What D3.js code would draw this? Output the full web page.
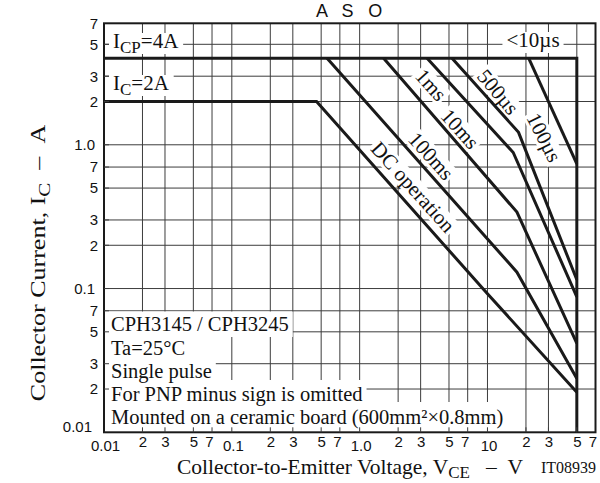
<!DOCTYPE html>
<html>
<head>
<meta charset="utf-8">
<script src="https://cdn.jsdelivr.net/npm/d3@7"></script>
<style>
  body { margin: 0; background: #fff; }
  svg { display: block; }
</style>
</head>
<body>
<svg id="chart" width="600" height="483"></svg>
<script>
// values (V in volts, I in amps)
const ic_peak = 4
const ic_dc = 2
const v_limit = 50
const dc_curve = [[0.01, 2], [0.46, 2], [10, 0.092], [50, 0.019]]
const ms100_curve = [[0.556, 4], [17, 0.13], [50, 0.0237]]
const ms10_curve = [[1.54, 4], [17, 0.34], [50, 0.0415]]
const ms1_curve = [[3.37, 4], [15.9, 0.884], [50, 0.0874]]
const us500_curve = [[5.28, 4], [17.5, 1.22], [50, 0.115]]
const us100_curve = [[21, 4], [50, 0.738]]

const x_ticks = [0.01, 0.02, 0.03, 0.05, 0.07, 0.1, 0.2, 0.3, 0.5, 0.7, 1, 2, 3, 5, 7, 10, 20, 30, 50, 70]
const x_labels = ["0.01", "2", "3", "5", "7", "0.1", "2", "3", "5", "7", "1.0", "2", "3", "5", "7", "10", "2", "3", "5", "7"]
const y_ticks = [0.01, 0.02, 0.03, 0.05, 0.07, 0.1, 0.2, 0.3, 0.5, 0.7, 1, 2, 3, 5, 7]
const y_labels = ["0.01", "2", "3", "5", "7", "0.1", "2", "3", "5", "7", "1.0", "2", "3", "5", "7"]
const decades = [0.01, 0.1, 1, 10]

const curve_names = ["DC operation", "100ms", "10ms", "1ms", "500\u00b5s", "100\u00b5s"]
const info_lines = ["CPH3145 / CPH3245", "Ta=25\u00b0C", "Single pulse",
  "For PNP minus sign is omitted", "Mounted on a ceramic board (600mm\u00b2\u00d70.8mm)"]

const serif = '"Liberation Serif", "Times New Roman", serif'
const sans = '"Liberation Sans", Arial, sans-serif'
const ink = "#1a1a1a"

let svg = d3.select("#chart")
let pl = 104, pr = 595.5, pt = 23.3, pb = 432.3

let x = d3.scaleLog().domain([0.01, 70]).range([pl, pr])
let y = d3.scaleLog().domain([0.01, 7]).range([pb, pt])

// grid
let grid = svg.append("g").attr("stroke", "#3c3c3c").attr("stroke-width", 1)
grid.selectAll(".vx").data(x_ticks.slice(1, -1)).join("line")
  .attr("x1", d => x(d)).attr("x2", d => x(d))
  .attr("y1", pb).attr("y2", pt)
grid.selectAll(".hy").data(y_ticks.slice(1, -1)).join("line")
  .attr("x1", pl).attr("x2", pr)
  .attr("y1", d => y(d)).attr("y2", d => y(d))

// white boxes that sit behind the annotation text
let boxes = svg.append("g")
let texts = svg.append("g").attr("fill", "#111").style("font-family", serif).style("font-size", "21px")

function addParts(t, parts, size, subSize) {
  let shift = 0
  parts.forEach(p => {
    let dy = p[1] ? 4.5 : 0
    t.append("tspan").text(p[0])
      .attr("dy", dy - shift)
      .style("font-size", (p[1] ? subSize || 17 : size || 21) + "px")
    shift = dy
  })
  return t
}

function cornerLabel(px, py, parts, anchor) {
  let t = addParts(texts.append("text").attr("x", px).attr("y", py).attr("text-anchor", anchor || "start"), parts)
  let b = t.node().getBBox()
  boxes.append("rect").attr("x", b.x - 4).attr("y", py - 15)
    .attr("width", b.width + 8).attr("height", 21).attr("fill", "#fff")
}

cornerLabel(113, 48, [["I", 0], ["CP", 1], ["=4A", 0]])
cornerLabel(113, 90, [["I", 0], ["C", 1], ["=2A", 0]])
cornerLabel(533, 47, [["<10\u00b5s", 0]], "middle")

// curve labels, centred between the lines and turned along them
let label_place = [[413, 187, 48], [431, 156, 48], [460, 129, 48], [431, 85, 48], [498, 92, 50], [544, 137.5, 63]]
curve_names.forEach((name, i) => {
  let p = label_place[i]
  let g = svg.append("g").attr("transform", `translate(${p[0]},${p[1]}) rotate(${p[2]})`)
  let t = g.append("text").text(name)
    .attr("text-anchor", "middle").attr("dominant-baseline", "central")
    .attr("fill", "#111").style("font-family", serif).style("font-size", "21px")
  let b = t.node().getBBox()
  g.insert("rect", "text").attr("x", b.x - 2).attr("y", b.y + 2)
    .attr("width", b.width + 4).attr("height", b.height - 4).attr("fill", "#fff")
})

// note block in the lower left: baseline of each line and the white band behind it
let info_base = [331, 354.5, 377.5, 401, 424]
let info_top = [311.5, 337, 337, 380, 402]
let info_bot = [337, 381, 381, 404, pb]
info_lines.forEach((s, i) => {
  let t = texts.append("text").attr("x", 111).attr("y", info_base[i])
    .style("font-size", "20.5px").text(s)
  let w = t.node().getComputedTextLength()
  boxes.append("rect").attr("x", pl).attr("y", info_top[i])
    .attr("width", 111 + w + 4 - pl).attr("height", info_bot[i] - info_top[i])
    .attr("fill", "#fff")
})

// limit lines
let line = d3.line().x(d => x(d[0])).y(d => y(d[1]))
let curves = svg.append("g").attr("fill", "none").attr("stroke", ink)
  .attr("stroke-width", 3).attr("stroke-linejoin", "miter")
curves.append("path").attr("d", line([[0.01, ic_peak], [v_limit, ic_peak], [v_limit, 0.01]]))
curves.selectAll(".c").data([dc_curve, ms100_curve, ms10_curve, ms1_curve, us500_curve, us100_curve])
  .join("path").attr("d", d => line(d))

// frame
svg.append("rect").attr("x", pl).attr("y", pt)
  .attr("width", pr - pl).attr("height", pb - pt)
  .attr("fill", "none").attr("stroke", ink).attr("stroke-width", 2)

// small inward ticks (still visible over the white boxes)
let ticks = svg.append("g").attr("stroke", "#3c3c3c")
ticks.selectAll(".tx").data(x_ticks.slice(1, -1)).join("line")
  .attr("x1", d => x(d)).attr("x2", d => x(d)).attr("y1", pb).attr("y2", pb - 5)
ticks.selectAll(".ty").data(y_ticks.slice(1, -1)).join("line")
  .attr("x1", pl).attr("x2", pl + 5).attr("y1", d => y(d)).attr("y2", d => y(d))

// axes labels
let xAxis = svg.append("g").attr("transform", `translate(0,${pb})`)
  .call(d3.axisBottom(x).tickValues(x_ticks).tickSize(0).tickPadding(4).tickFormat((d, i) => x_labels[i]))
xAxis.select(".domain").remove()
xAxis.selectAll("text").style("font-family", sans).style("font-size", "15px").attr("fill", "#111")
  .attr("dy", d => decades.includes(d) ? "0.98em" : "0.71em")
  .attr("dx", (d, i) => decades.includes(d) ? 1 : (x_labels[i] == "7" ? -3 : 0))

let yAxis = svg.append("g").attr("transform", `translate(${pl},0)`)
  .call(d3.axisLeft(y).tickValues(y_ticks).tickSize(0).tickPadding(6).tickFormat((d, i) => y_labels[i]))
yAxis.select(".domain").remove()
yAxis.selectAll("text").style("font-family", sans).style("font-size", "15px").attr("fill", "#111")
  .attr("x", d => d == 0.01 ? -12 : (decades.includes(d) ? -9 : -6))
  .attr("dy", d => d == 0.01 ? "-0.05em" : "0.32em")

// titles
svg.append("text").attr("x", 316).attr("y", 16.5).text("A S O")
  .attr("fill", "#111").style("font-family", sans).style("font-size", "18px").style("letter-spacing", "4.8px")

let xt = svg.append("text").attr("x", 350).attr("y", 473.5).attr("text-anchor", "middle")
  .attr("fill", "#111").style("font-family", serif).style("font-size", "21.5px")
addParts(xt, [["Collector-to-Emitter Voltage, V", 0], ["CE", 1], ["\u00a0\u00a0\u00a0\u2013\u00a0\u00a0V", 0]], 21.5)

svg.append("text").attr("x", 596).attr("y", 473).attr("text-anchor", "end").text("IT08939")
  .attr("fill", "#111").style("font-family", serif).style("font-size", "16px")

// the reference draws this label drawn out along its length
let yt = svg.append("text").attr("transform", "translate(45,263) rotate(-90) scale(1.24,1)").attr("text-anchor", "middle")
  .attr("fill", "#111").style("font-family", serif).style("font-size", "21px")
addParts(yt, [["Collector Current, I", 0], ["C", 1], ["\u00a0\u00a0\u2013\u00a0\u00a0A", 0]])
</script>
</body>
</html>
